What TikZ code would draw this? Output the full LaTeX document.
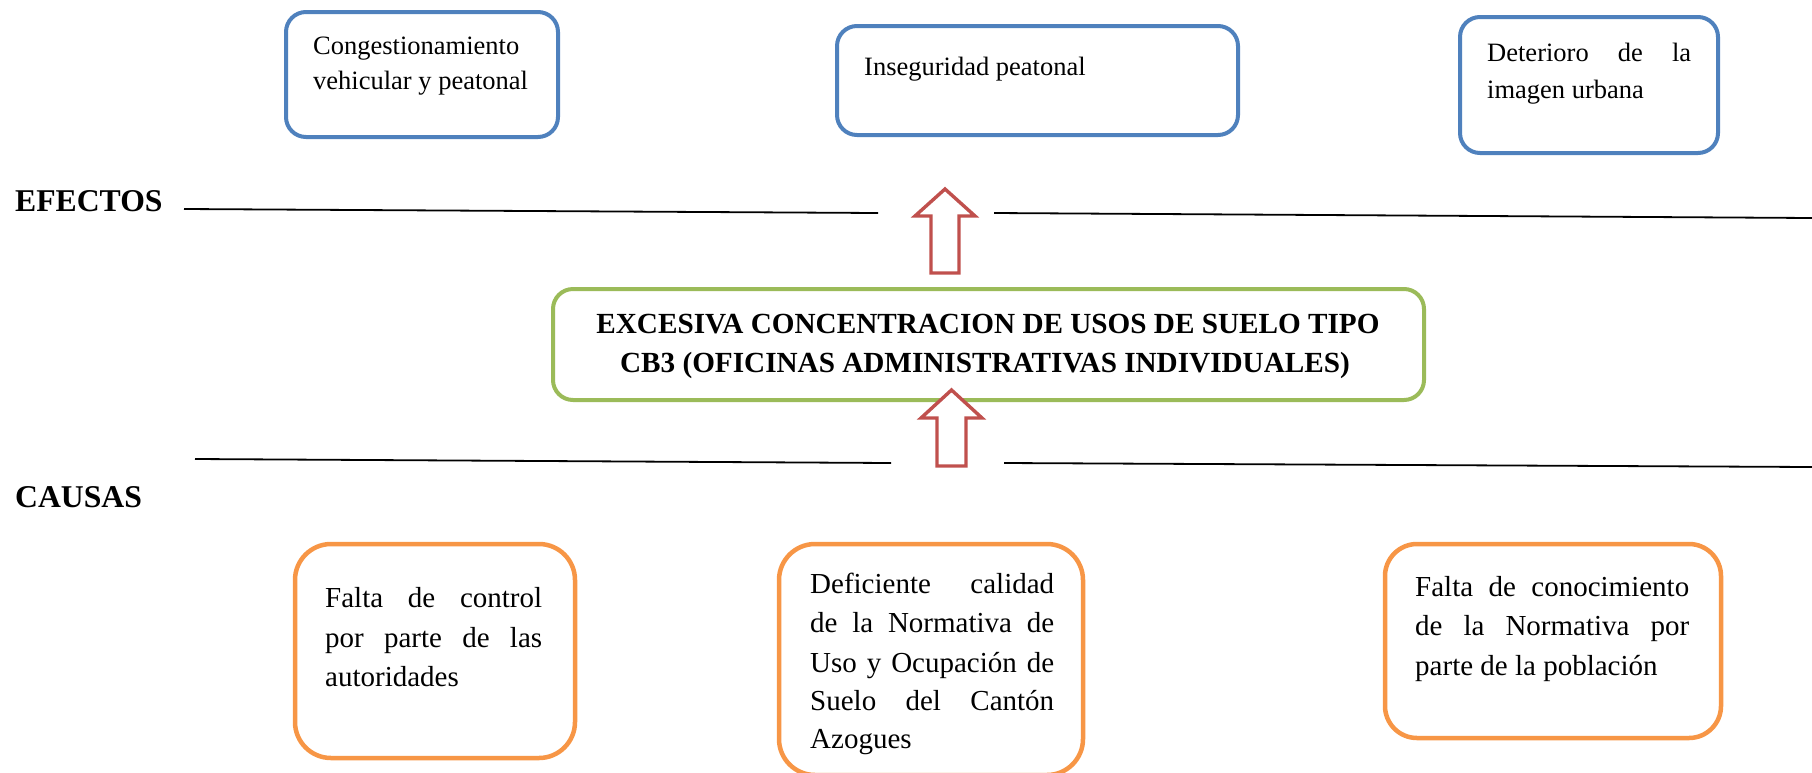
\documentclass[tikz,border=0pt]{standalone}
\usepackage{fontspec}
\setmainfont{Liberation Serif}
\definecolor{effblue}{HTML}{4F81BD}
\definecolor{probgreen}{HTML}{9BBB59}
\definecolor{causeorange}{HTML}{F79646}
\definecolor{arrowred}{HTML}{C0504D}
\begin{document}
\begin{tikzpicture}[x=1pt,y=-1pt,
  box/.style={draw, rectangle, inner sep=0pt, outer sep=0pt, fill=white},
  effbox/.style={box, draw=effblue, line width=4pt, rounded corners=20pt},
  probbox/.style={box, draw=probgreen, line width=4pt, rounded corners=20pt},
  causebox/.style={box, draw=causeorange, line width=4.5pt, rounded corners=36pt},
  efftxt/.style={inner sep=0pt, anchor=base west, font=\fontsize{26.5}{36}\selectfont},
  causetxt/.style={inner sep=0pt, anchor=base west, font=\fontsize{29}{39}\selectfont},
  probtxt/.style={inner sep=0pt, anchor=base, font=\fontsize{29.2}{39}\selectfont\bfseries},
  sidetxt/.style={inner sep=0pt, anchor=base west, font=\fontsize{31.7}{38}\selectfont\bfseries},
  divider/.style={draw=black, line width=1.8pt},
  blockarrow/.style={draw=arrowred, line width=3.4pt, fill=white, line join=miter}
]
\useasboundingbox (0,0) rectangle (1812,772);

% effect boxes
\node[effbox, minimum width=272pt, minimum height=125pt] (e1) at (422,74.5) {};
\node[effbox, minimum width=401pt, minimum height=109pt] (e2) at (1037.5,80.5) {};
\node[effbox, minimum width=258pt, minimum height=136pt] (e3) at (1589,85) {};
\node[efftxt] (e1a) at (313,54) {Congestionamiento};
\node[efftxt] (e1b) at (313,89) {vehicular y peatonal};
\node[efftxt] (e2a) at (864,75) {Inseguridad peatonal};
\node[efftxt] (e3a) at (1487,61) {\makebox[204pt][s]{Deterioro de la}};
\node[efftxt] (e3b) at (1487,98) {imagen urbana};

% side labels
\node[sidetxt] (lef) at (15,211) {EFECTOS};
\node[sidetxt] (lca) at (15,507) {CAUSAS};

% divider lines
\coordinate (ef1) at (184,209);
\coordinate (ef2) at (878,213);
\coordinate (ef3) at (994,213);
\coordinate (ef4) at (1812,218);
\coordinate (ca1) at (195,459);
\coordinate (ca2) at (891,463);
\coordinate (ca3) at (1004,463);
\coordinate (ca4) at (1812,467);
\draw[divider] (ef1) -- (ef2);
\draw[divider] (ef3) -- (ef4);
\draw[divider] (ca1) -- (ca2);
\draw[divider] (ca3) -- (ca4);

% central problem
\node[probbox, minimum width=871pt, minimum height=111pt] (p) at (988.5,344.5) {};
\node[probtxt] (pa) at (988,333) {EXCESIVA CONCENTRACION DE USOS DE SUELO TIPO};
\node[probtxt] (pb) at (985,372) {CB3 (OFICINAS ADMINISTRATIVAS INDIVIDUALES)};

% block arrows
\draw[blockarrow] (945,189) -- (975,216) -- (959,216) -- (959,273) -- (931,273) -- (931,216) -- (915,216) -- cycle;
\draw[blockarrow] (951.5,390) -- (982,418) -- (966,418) -- (966,466) -- (937,466) -- (937,418) -- (921,418) -- cycle;

% cause boxes
\node[causebox, minimum width=280pt, minimum height=214pt] (c1) at (435,651) {};
\node[causebox, minimum width=304pt, minimum height=231pt] (c2) at (931,659.5) {};
\node[causebox, minimum width=336pt, minimum height=194pt, rounded corners=32pt] (c3) at (1553,641) {};
\node[causetxt] (c1a) at (325,607) {\makebox[217pt][s]{Falta de control}};
\node[causetxt] (c1b) at (325,647) {\makebox[217pt][s]{por parte de las}};
\node[causetxt] (c1c) at (325,686) {autoridades};
\node[causetxt] (c2a) at (810,593) {\makebox[244pt][s]{Deficiente calidad}};
\node[causetxt] (c2b) at (810,632) {\makebox[244pt][s]{de la Normativa de}};
\node[causetxt] (c2c) at (810,672) {\makebox[244pt][s]{Uso y Ocupación de}};
\node[causetxt] (c2d) at (810,710) {\makebox[244pt][s]{Suelo del Cantón}};
\node[causetxt] (c2e) at (810,748) {Azogues};
\node[causetxt] (c3a) at (1415,596) {\makebox[274pt][s]{Falta de conocimiento}};
\node[causetxt] (c3b) at (1415,635) {\makebox[274pt][s]{de la Normativa por}};
\node[causetxt] (c3c) at (1415,675) {parte de la población};
\end{tikzpicture}
\end{document}
